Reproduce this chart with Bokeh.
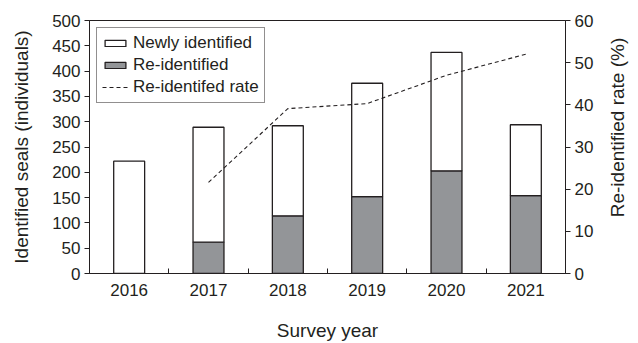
import math
from bokeh.plotting import figure
from bokeh.layouts import row
from bokeh.core.properties import value
from bokeh.models import (ColumnDataSource, Range1d, LinearAxis, FixedTicker,
                          Legend, LegendItem)
from bokeh.embed import file_html
from bokeh.resources import INLINE

# ---- data ----
years = [2016, 2017, 2018, 2019, 2020, 2021]
re_identified = [0, 62, 114, 152, 203, 154]
newly_identified = [222, 227, 178, 224, 234, 140]
rate_years = [2017, 2018, 2019, 2020, 2021]
reidentified_rate = [21.6, 39.1, 40.3, 47.0, 52.0]
left_ticks = [0, 50, 100, 150, 200, 250, 300, 350, 400, 450, 500]
right_ticks = [0, 10, 20, 30, 40, 50, 60]
right_title = "Re-identified rate (%)"

FONT = "Liberation Sans"
DARK = "#231f20"
GRAY = "#939598"

tops = [r + n for r, n in zip(re_identified, newly_identified)]
src = ColumnDataSource(dict(year=years, re=re_identified, top=tops))

p = figure(width=600, height=343, output_backend="svg", toolbar_location=None,
           x_range=Range1d(2015.5, 2021.5), y_range=Range1d(0, 500),
           min_border_left=89, min_border_right=35, min_border_top=20,
           min_border_bottom=68)
p.extra_y_ranges = {"rate": Range1d(0, 60)}
p.xgrid.visible = False
p.ygrid.visible = False
p.outline_line_color = DARK
p.outline_line_width = 1
p.background_fill_color = "white"
p.border_fill_color = "white"

bw = 0.39
r_re = p.vbar(x="year", bottom=0, top="re", width=bw, source=src,
              fill_color=GRAY, line_color=DARK, line_width=1.3)
r_new = p.vbar(x="year", bottom="re", top="top", width=bw, source=src,
               fill_color="white", line_color=DARK, line_width=1.3)
r_rate = p.line(rate_years, reidentified_rate, y_range_name="rate",
                line_color=DARK, line_width=1.1, line_dash="4 3")

# x axis
xa = p.xaxis[0]
xa.ticker = FixedTicker(ticks=years, minor_ticks=[y + 0.5 for y in years[:-1]])
xa.major_tick_in = 0
xa.major_tick_out = 0
xa.minor_tick_in = 5
xa.minor_tick_out = 0
xa.minor_tick_line_color = DARK
xa.major_label_standoff = 10
xa.axis_label = "Survey year"
xa.axis_label_standoff = 21

# left axis
ya = p.yaxis[0]
ya.ticker = FixedTicker(ticks=left_ticks)
ya.major_tick_in = 0
ya.major_tick_out = 5
ya.minor_tick_line_color = None
ya.major_label_standoff = 4
ya.axis_label = "Identified seals (individuals)"
ya.axis_label_standoff = 17

# right axis
ra = LinearAxis(y_range_name="rate", ticker=FixedTicker(ticks=right_ticks))
ra.major_tick_in = 0
ra.major_tick_out = 5
ra.minor_tick_line_color = None
ra.major_label_standoff = 4
p.add_layout(ra, "right")

for ax in (xa, ya, ra):
    ax.axis_line_color = DARK
    ax.major_tick_line_color = DARK
    ax.major_label_text_font = FONT
    ax.major_label_text_font_size = "17px"
    ax.major_label_text_color = DARK
    ax.axis_label_text_font = FONT
    ax.axis_label_text_font_size = "19px"
    ax.axis_label_text_font_style = "normal"
    ax.axis_label_text_color = DARK

legend = Legend(items=[
    LegendItem(label="Newly identified", renderers=[r_new]),
    LegendItem(label="Re-identified", renderers=[r_re]),
    LegendItem(label="Re-identifed rate", renderers=[r_rate]),
], location="top_left")
legend.margin = 7
legend.padding = 5
legend.spacing = 2
legend.glyph_width = 26
legend.glyph_height = 8
legend.label_height = 20
legend.label_standoff = 5
legend.label_text_font = FONT
legend.label_text_font_size = "17px"
legend.label_text_color = DARK
legend.border_line_color = DARK
legend.border_line_width = 1
legend.background_fill_alpha = 1
p.add_layout(legend)

# narrow panel holding the right-hand axis title (reads bottom-to-top)
side = figure(width=38, height=343, output_backend="svg", toolbar_location=None,
              x_range=Range1d(0, 1), y_range=Range1d(0, 1),
              x_axis_type=None, y_axis_type=None,
              min_border_left=0, min_border_right=0, min_border_top=0,
              min_border_bottom=0)
side.outline_line_color = None
side.xgrid.visible = False
side.ygrid.visible = False
side.border_fill_color = "white"
side.background_fill_color = "white"
side.text(x=[0.44], y=[0.577], text=[right_title], angle=math.pi / 2,
          text_align="center", text_baseline="middle",
          text_font=value(FONT), text_font_size="19px", text_color=DARK)

layout = row(p, side, spacing=0)
open("out.html", "w").write(file_html(layout, INLINE))
